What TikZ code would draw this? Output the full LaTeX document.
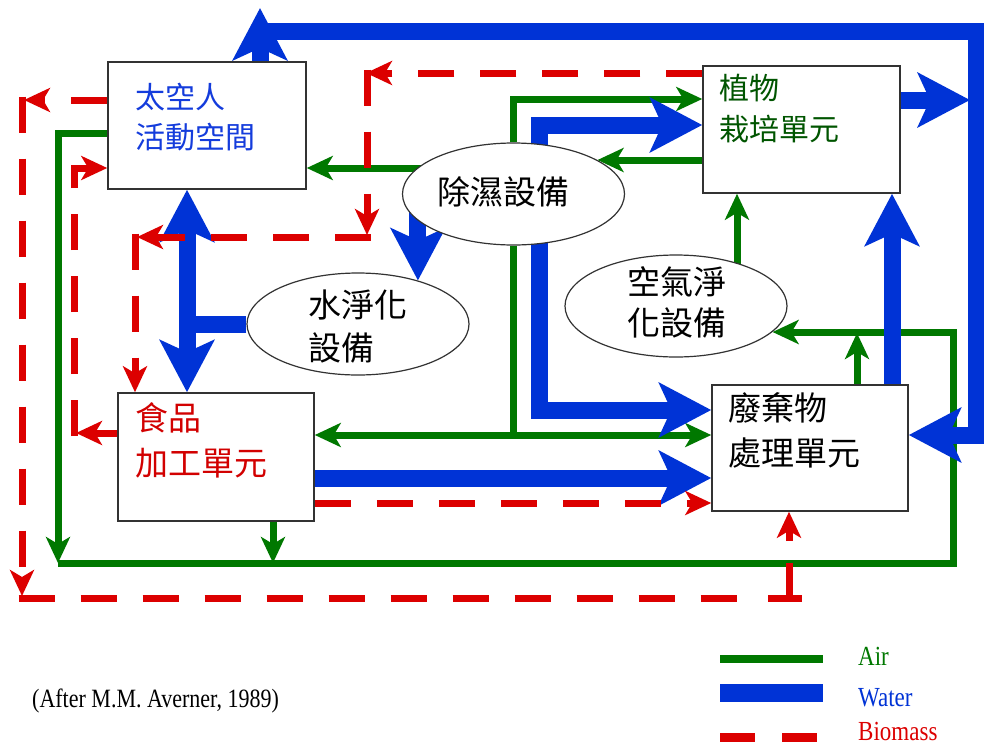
\documentclass[tikz,border=0pt]{standalone}
\usepackage{fontspec}
\setmainfont{Liberation Serif}
\newfontfamily\cjk{Noto Sans CJK TC}
\usetikzlibrary{arrows.meta,shapes.geometric,backgrounds}
\definecolor{airc}{RGB}{0,120,0}
\definecolor{waterc}{RGB}{0,51,214}
\definecolor{bioc}{RGB}{220,0,0}
\definecolor{astroc}{RGB}{20,60,220}
\definecolor{plantc}{RGB}{0,85,0}
\definecolor{foodc}{RGB}{210,0,0}
\definecolor{edgec}{RGB}{50,50,50}
\pgfdeclarelayer{paper}
\pgfsetlayers{paper,background,main}
\begin{document}
\begin{tikzpicture}[x=1pt,y=-1pt,
 unit/.style={draw=edgec, line width=1.5pt, fill=white, rectangle, inner sep=0pt},
 equip/.style={draw=edgec, line width=1.2pt, fill=white, ellipse, minimum width=222pt, minimum height=102pt, inner sep=0pt},
 lbl/.style={anchor=west, align=left, inner sep=0pt},
 airflow/.style={draw=airc, line width=7pt, >={Stealth[length=26pt,width=24pt,inset=7pt]}},
 waterflow/.style={draw=waterc, line width=17pt, >={Stealth[length=52pt,width=54pt,inset=12pt]}},
 bioflow/.style={draw=bioc, line width=7pt, dash pattern=on 36pt off 26pt, >={Stealth[length=26pt,width=24pt,inset=7pt]}},
 big/.style={font=\cjk\fontsize{33}{43}\selectfont},
 legtext/.style={anchor=west, inner sep=0pt, font=\fontsize{23}{23}\selectfont}
]
\begin{pgfonlayer}{paper}
\fill[white] (0,0) rectangle (984,745);
\end{pgfonlayer}
\useasboundingbox (0,0) rectangle (984,745);

% units
\node[unit, minimum width=198pt, minimum height=127pt] (astro) at (207,125.5) {};
\node[unit, minimum width=197pt, minimum height=127pt] (plant) at (801.5,129.5) {};
\node[unit, minimum width=196pt, minimum height=128pt] (food) at (216,457) {};
\node[unit, minimum width=196pt, minimum height=126pt] (waste) at (810,448) {};

% equipment
\node[equip] (dehum) at (513.5,194) {};
\node[equip] (purW) at (358,324) {};
\node[equip] (purA) at (676,306) {};

% labels
\node[lbl, text=astroc, font=\cjk\fontsize{30}{40}\selectfont] (astroT) at (135,117) {太空人\\活動空間};
\node[lbl, text=plantc, font=\cjk\fontsize{30}{41}\selectfont] (plantT) at (719,108.5) {植物\\栽培單元};
\node[lbl, text=foodc, font=\cjk\fontsize{33}{45}\selectfont] (foodT) at (135,440.5) {食品\\加工單元};
\node[lbl, font=\cjk\fontsize{33}{45}\selectfont] (wasteT) at (728,430.5) {廢棄物\\處理單元};
\node[big, inner sep=0pt] (dehumT) at (503,192) {除濕設備};
\node[lbl, big] (purWT) at (308,326.5) {水淨化\\設備};
\node[lbl, font=\cjk\fontsize{33}{41}\selectfont] (purAT) at (627,302.5) {空氣淨\\化設備};

\begin{scope}[on background layer]
% ---- air ----
\draw[airflow,->] (dehum.center |- 0,168) -- (astro.east |- 0,168);
\draw[airflow,->] (plant.west |- 0,160) -- (dehum.22 |- 0,160);
\draw[airflow,->] (dehum.north) |- (plant.west |- 0,99);
\draw[airflow] (dehum.south) -- (dehum.south |- 0,435);
\draw[airflow,<->] (food.east |- 0,435) -- (waste.west |- 0,435);
\draw[airflow,->] (purA.center -| 737,0) -- (plant.south -| 737,0);
\draw[airflow,->] (waste.north -| 857,0) -- (857,333);
\draw[airflow,->] (astro.west |- 0,133) -- (58,133) -- (58,563);
\draw[airflow,->] (58,563) -- (953,563) -- (953,332) -- (purA.-15 |- 0,332);
\draw[airflow,->] (food.south -| 273,0) -- (273,563);
% ---- water ----
\draw[waterflow,->] (astro.north -| 260,0) -- (260,8);
\draw[waterflow,->] (260,31) -- (976,31) -- (976,435) -- (waste.east |- 0,435);
\draw[waterflow,->] (plant.east |- 0,100) -- (970,100);
\draw[waterflow,->] (waste.north -| 892,0) -- (plant.south -| 892,0);
\draw[waterflow,->] (dehum.center -| 539,0) |- (plant.west |- 0,125);
\draw[waterflow,->] (dehum.center -| 539,0) |- (waste.west |- 0,410);
\draw[waterflow,->] (dehum.center -| purW.36) -- (purW.36);
\draw[waterflow] (purW.west) -- (187,324);
\draw[waterflow,<->] (astro.south -| 187,0) -- (food.north -| 187,0);
\draw[waterflow,->] (food.east |- 0,478) -- (waste.west |- 0,478);
% ---- biomass ----
\draw[bioflow,->] (plant.west |- 0,73) -- (366,73);
\draw[bioflow,->] (367,69.5) -- (367,235);
\draw[bioflow,->] (370.5,237) -- (137,237);
\draw[bioflow,->] (135,233.5) -- (food.north -| 135,0);
\draw[bioflow,->] (astro.west |- 0,100) -- (24,100);
\draw[bioflow,->] (22,96.5) -- (22,596);
\draw[bioflow] (18.5,598) -- (737,598);
\draw[bioflow, dash pattern=] (768,598) -- (802,598) (789,598) -- (789,563);
\draw[bioflow,->] (789,541) -- (waste.south -| 789,0);
\draw[bioflow,->] (food.west |- 0,433) -- (76,433);
\draw[bioflow,->] (74,436) -- (74,168) -- (astro.west |- 0,168);
\draw[bioflow,->] (food.east |- 0,503) -- (waste.west |- 0,503);
\end{scope}

% legend
\draw[airc, line width=8pt] (720,659) -- (823,659);
\draw[waterc, line width=18pt] (720,693) -- (823,693);
\draw[bioc, line width=9pt, dash pattern=on 35pt off 27pt] (720,737) -- (817,737);
\node[legtext, text=airc] (legA) at (858,656) {\scalebox{1}[1.2]{Air}};
\node[legtext, text=waterc] (legW) at (858,698) {\scalebox{1}[1.2]{Water}};
\node[legtext, text=bioc] (legB) at (858,731) {\scalebox{1}[1.2]{Biomass}};
\node[anchor=west, inner sep=0pt, font=\fontsize{22}{22}\selectfont] (cite) at (32,701) {\scalebox{1}[1.2]{(After M.M. Averner, 1989)}};
\end{tikzpicture}
\end{document}
